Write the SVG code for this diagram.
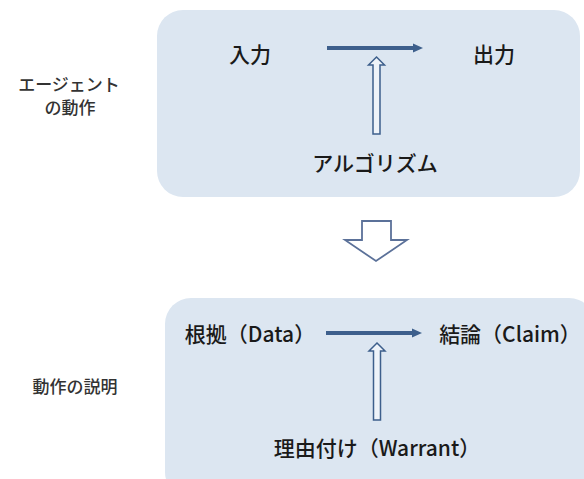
<svg xmlns="http://www.w3.org/2000/svg" width="584" height="479" viewBox="0 0 584 479">
<style>
.box{fill:#dce6f1;}
.t{font-family:"Noto Sans CJK JP","Liberation Sans",sans-serif;font-size:21px;font-weight:500;fill:#1a1a1a;text-anchor:middle;dominant-baseline:central;}
.lab{font-family:"Liberation Serif","Noto Sans CJK JP",serif;font-size:17px;font-weight:500;fill:#333;text-anchor:middle;dominant-baseline:central;}
.line{stroke:#3d5f8c;stroke-width:4;fill:none;}
.head{fill:#3d5f8c;}
.hollow{fill:#eef3f9;stroke:#3d5f8c;stroke-width:1.5;stroke-linejoin:miter;}
.down{fill:#ffffff;stroke:#5b7199;stroke-width:1.8;}
</style>
<rect width="584" height="479" fill="#ffffff"/>
<g id="box-top"><rect class="box" x="157" y="10" width="423" height="187" rx="26"/></g>
<g id="box-bottom"><rect class="box" x="165" y="298" width="430" height="200" rx="26"/></g>
<g id="label-agent"><text class="lab" x="69" y="85">エージェント</text><text class="lab" x="70" y="108">の動作</text></g>
<g id="label-explain"><text class="lab" x="75" y="387">動作の説明</text></g>
<g id="n-input"><text class="t" x="250" y="53">入力</text></g>
<g id="n-output"><text class="t" x="494" y="53">出力</text></g>
<g id="n-algo"><text class="t" x="375" y="162">アルゴリズム</text></g>
<g id="n-data"><text class="t" x="250" y="333">根拠（Data）</text></g>
<g id="n-claim"><text class="t" x="510" y="333">結論（Claim）</text></g>
<g id="n-warrant"><text class="t" x="377" y="447">理由付け（Warrant）</text></g>
<g id="connectors">
<line class="line" x1="327" y1="48" x2="415" y2="48"/>
<polygon class="head" points="413,43.5 423,48 413,52.5"/>
<polygon class="hollow" points="376.5,57 384.5,65 380,65 380,134 373,134 373,65 368.5,65"/>
<line class="line" x1="326" y1="333" x2="414" y2="333"/>
<polygon class="head" points="412,328.5 422,333 412,337.5"/>
<polygon class="hollow" points="377,343 385,351 380.5,351 380.5,420 373.5,420 373.5,351 369,351"/>
<polygon class="down" points="362,221 391,221 391,240 407,240 376,261 345,240 362,240"/>
</g>
</svg>
